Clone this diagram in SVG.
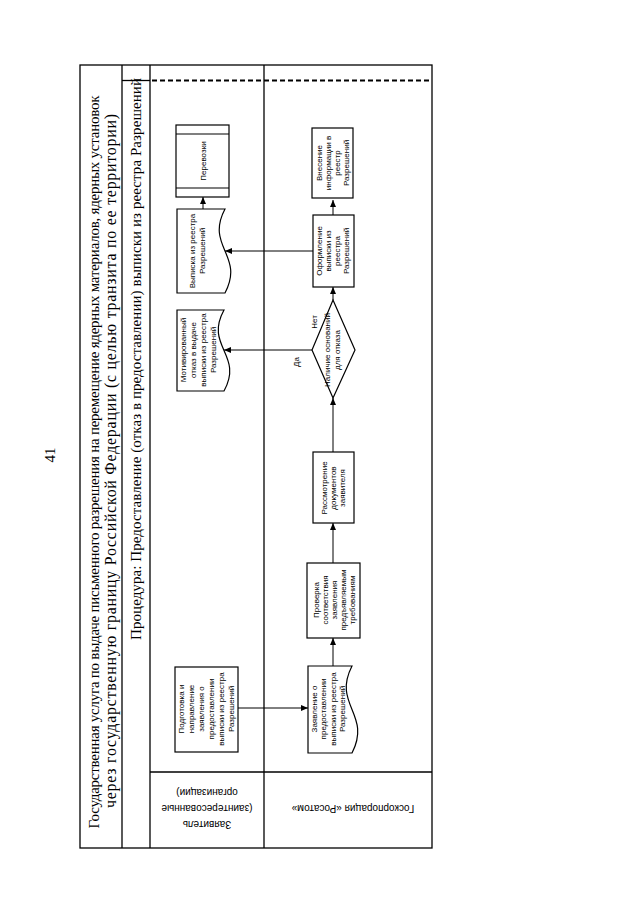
<svg xmlns="http://www.w3.org/2000/svg" width="640" height="905" viewBox="0 0 640 905">
<defs>
<marker id="ah" markerUnits="userSpaceOnUse" markerWidth="7" markerHeight="6" refX="7" refY="3" orient="auto">
<path d="M0,0 L7,3 L0,6 Z" fill="#000"/>
</marker>
<style>
.tb{fill:none;stroke:#000;stroke-width:1.3}
.sh{fill:#fff;stroke:#000;stroke-width:1.2}
.cn{fill:none;stroke:#000;stroke-width:1;marker-end:url(#ah)}
.nt{font-family:"Liberation Sans",Arial,sans-serif;font-size:8px;fill:#000;text-anchor:middle}
.ln{font-family:"Liberation Sans",Arial,sans-serif;font-size:10px;fill:#000;text-anchor:middle}
.tt{font-family:"Liberation Serif","Times New Roman",serif;font-size:15px;fill:#000;text-anchor:middle}
</style>
</defs>
<rect width="640" height="905" fill="#fff"/>

<g id="table">
<rect class="tb" x="80" y="65" width="352" height="783"/>
<line class="tb" x1="122" y1="65" x2="122" y2="848"/>
<line class="tb" x1="150" y1="65" x2="150" y2="848"/>
<line class="tb" x1="264" y1="65" x2="264" y2="848"/>
<line class="tb" x1="150" y1="772" x2="432" y2="772"/>
<line class="tb" x1="122" y1="80.5" x2="150" y2="80.5"/>
<line x1="152" y1="80.5" x2="432" y2="80.5" stroke="#000" stroke-width="2.2" stroke-dasharray="5 3"/>
</g>

<g id="titles">
<text class="tt" font-size="14" transform="rotate(-90 50 455)" x="50" y="460">41</text>
<text class="tt" transform="rotate(-90 100 462)" x="100" y="461" textLength="733">Государственная услуга по выдаче письменного разрешения на перемещение ядерных материалов, ядерных установок</text>
<text class="tt" style="font-size:15.8px" transform="rotate(-90 116 461)" x="116" y="461" textLength="694">через государственную границу Российской Федерации (с целью транзита по ее территории)</text>
<text class="tt" transform="rotate(-90 141 359)" x="141" y="359" textLength="562">Процедура: Предоставление (отказ в предоставлении) выписки из реестра Разрешений</text>
</g>

<g id="lane-applicant">
<text class="ln" transform="rotate(180 207 808)" x="207" y="808"><tspan x="207" y="795.5">Заявитель</tspan><tspan x="207" y="811.5">(заинтересованные</tspan><tspan x="207" y="827.5">организации)</tspan></text>
</g>
<g id="lane-rosatom">
<text class="ln" transform="rotate(180 353 808)" x="353" y="811.5">Госкорпорация «Росатом»</text>
</g>

<g id="connectors">
<line class="cn" x1="238" y1="708" x2="308" y2="708"/>
<line class="cn" x1="333" y1="666" x2="333" y2="638"/>
<line class="cn" x1="333" y1="563" x2="333" y2="523"/>
<line class="cn" x1="333" y1="452" x2="333" y2="398"/>
<line class="cn" x1="333" y1="300" x2="333" y2="287"/>
<line class="cn" x1="312" y1="350" x2="224" y2="350"/>
<line class="cn" x1="313" y1="251" x2="225" y2="251"/>
<line class="cn" x1="333" y1="215" x2="333" y2="200"/>
<line class="cn" x1="203" y1="209" x2="203" y2="197"/>
<text class="nt" transform="rotate(-90 314 322)" x="314" y="324.8">Нет</text>
<text class="nt" transform="rotate(-90 296 362)" x="296" y="364.8">Да</text>
</g>

<g id="n-perevozki">
<rect class="sh" x="176" y="125" width="53" height="72"/>
<line class="sh" x1="176" y1="134" x2="229" y2="134"/>
<line class="sh" x1="176" y1="188" x2="229" y2="188"/>
<text class="nt" transform="rotate(-90 203 161)" x="203" y="163.8">Перевозки</text>
</g>

<g id="n-vypiska">
<path class="sh" d="M177,209 H225 C205,246.8 245,255.2 225,293 H177 Z"/>
<text class="nt" transform="rotate(-90 197 251)"><tspan x="197" y="248.8">Выписка из реестра</tspan><tspan x="197" y="258.8">Разрешений</tspan></text>
</g>

<g id="n-otkaz">
<path class="sh" d="M177,310 H224 C204,346.5 244,354.5 224,391 H177 Z"/>
<text class="nt" transform="rotate(-90 198 350)"><tspan x="198" y="337.8">Мотивированный</tspan><tspan x="198" y="347.8">отказ в выдаче</tspan><tspan x="198" y="357.8">выписки из реестра</tspan><tspan x="198" y="367.8">Разрешений</tspan></text>
</g>

<g id="n-vnesenie">
<rect class="sh" x="312" y="128" width="41" height="70"/>
<text class="nt" transform="rotate(-90 333 163)"><tspan x="333" y="152.3">Внесение</tspan><tspan x="333" y="161.3">информации в</tspan><tspan x="333" y="170.3">реестр</tspan><tspan x="333" y="179.3">Разрешений</tspan></text>
</g>

<g id="n-oformlenie">
<rect class="sh" x="313" y="215" width="41" height="72"/>
<text class="nt" transform="rotate(-90 333 251)"><tspan x="333" y="240.3">Оформление</tspan><tspan x="333" y="249.3">выписки из</tspan><tspan x="333" y="258.3">реестра</tspan><tspan x="333" y="267.3">Разрешений</tspan></text>
</g>

<g id="n-decision">
<polygon class="sh" points="333,300 355,350 333,398 312,350"/>
<text class="nt" transform="rotate(-90 332 350)"><tspan x="332" y="347.8">Наличие оснований</tspan><tspan x="332" y="357.8">для отказа</tspan></text>
</g>

<g id="n-rassmotrenie">
<rect class="sh" x="313" y="452" width="41" height="71"/>
<text class="nt" transform="rotate(-90 333 488)"><tspan x="333" y="481.8">Рассмотрение</tspan><tspan x="333" y="490.8">документов</tspan><tspan x="333" y="499.8">заявителя</tspan></text>
</g>

<g id="n-proverka">
<rect class="sh" x="307" y="563" width="53" height="75"/>
<text class="nt" transform="rotate(-90 334 600)"><tspan x="334" y="584.8">Проверка</tspan><tspan x="334" y="593.8">соответствия</tspan><tspan x="334" y="602.8">заявления</tspan><tspan x="334" y="611.8">предъявляемым</tspan><tspan x="334" y="620.8">требованиям</tspan></text>
</g>

<g id="n-zayavlenie">
<path class="sh" d="M308,666 H352 C332,705 372,714 352,753 H308 Z"/>
<text class="nt" transform="rotate(-90 328 709)"><tspan x="328" y="697.6">Заявление о</tspan><tspan x="328" y="707.1">предоставлении</tspan><tspan x="328" y="716.6">выписки из реестра</tspan><tspan x="328" y="726.1">Разрешений</tspan></text>
</g>

<g id="n-podgotovka">
<rect class="sh" x="175" y="667" width="63" height="85"/>
<text class="nt" transform="rotate(-90 206 709)"><tspan x="206" y="686.8">Подготовка и</tspan><tspan x="206" y="696.8">направление</tspan><tspan x="206" y="706.8">заявления о</tspan><tspan x="206" y="716.8">предоставлении</tspan><tspan x="206" y="726.8">выписки из реестра</tspan><tspan x="206" y="736.8">Разрешений</tspan></text>
</g>
</svg>
